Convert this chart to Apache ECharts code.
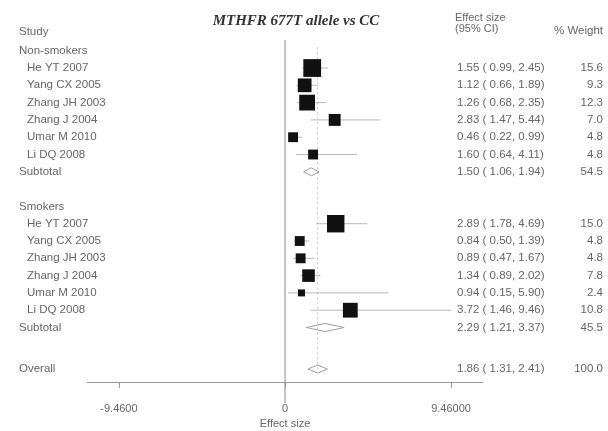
<!DOCTYPE html>
<html>
<head>
<meta charset="utf-8">
<script src="https://cdn.jsdelivr.net/npm/echarts@6/dist/echarts.min.js"></script>
<style>
  html, body { margin: 0; padding: 0; background: #fff; }
  #chart { width: 608px; height: 431px; }
</style>
</head>
<body>
<div id="chart"></div>
<script>
// studies (same list in both groups)
const studyNames = ['He YT 2007', 'Yang CX 2005', 'Zhang JH 2003', 'Zhang J 2004', 'Umar M 2010', 'Li DQ 2008']

// non-smokers
const nsEs = [1.55, 1.12, 1.26, 2.83, 0.46, 1.60]
const nsLo = [0.99, 0.66, 0.68, 1.47, 0.22, 0.64]
const nsHi = [2.45, 1.89, 2.35, 5.44, 0.99, 4.11]
const nsWt = [15.6, 9.3, 12.3, 7.0, 4.8, 4.8]
const nsSub = [1.50, 1.06, 1.94, 54.5]

// smokers
const smEs = [2.89, 0.84, 0.89, 1.34, 0.94, 3.72]
const smLo = [1.78, 0.50, 0.47, 0.89, 0.15, 1.46]
const smHi = [4.69, 1.39, 1.67, 2.02, 5.90, 9.46]
const smWt = [15.0, 4.8, 4.8, 7.8, 2.4, 10.8]
const smSub = [2.29, 1.21, 3.37, 45.5]

// overall
const overall = [1.86, 1.31, 2.41, 100.0]

// x axis ticks
const tickValues = [-9.46, 0, 9.46]
const tickLabels = ['-9.4600', '0', '9.46000']

const groups = [
  { name: 'Non-smokers', es: nsEs, lo: nsLo, hi: nsHi, wt: nsWt, sub: nsSub },
  { name: 'Smokers', es: smEs, lo: smLo, hi: smHi, wt: smWt, sub: smSub }
]

// build the rows
const textRows = []
const studyData = []
const diamondData = []
let r = -1
groups.forEach(g => {
  textRows.push({ r: r, label: g.name, indent: false })
  r++
  studyNames.forEach((n, i) => {
    studyData.push([g.es[i], r, g.lo[i], g.hi[i], g.wt[i]])
    textRows.push({ r: r, label: n, indent: true, es: g.es[i], lo: g.lo[i], hi: g.hi[i], wt: g.wt[i] })
    r++
  })
  diamondData.push([g.sub[0], r, g.sub[1], g.sub[2]])
  textRows.push({ r: r, label: 'Subtotal', indent: false, es: g.sub[0], lo: g.sub[1], hi: g.sub[2], wt: g.sub[3] })
  r += 2
})
const overallRow = r + 0.4
diamondData.push([overall[0], overallRow, overall[1], overall[2]])
textRows.push({ r: overallRow, label: 'Overall', indent: false, es: overall[0], lo: overall[1], hi: overall[2], wt: overall[3] })

const yMin = -1.62
const yMax = 18.15
const textColor = '#666'
const font = '11.5px "Liberation Sans", Arial, sans-serif'

const f2 = v => v.toFixed(2)

const chart = echarts.init(document.getElementById('chart'))

chart.setOption({
  backgroundColor: '#fff',
  animation: false,
  title: {
    text: 'MTHFR 677T allele vs CC',
    left: 291,
    top: 9,
    textAlign: 'center',
    textStyle: {
      fontFamily: '"Liberation Serif", "Times New Roman", serif',
      fontStyle: 'italic',
      fontWeight: 'bold',
      fontSize: 15,
      color: '#333'
    }
  },
  graphic: [
    { type: 'text', left: 19, top: 26, style: { text: 'Study', font: font, fill: textColor } },
    { type: 'text', left: 455, top: 12, style: { text: 'Effect size', font: '11px "Liberation Sans", Arial, sans-serif', fill: textColor } },
    { type: 'text', left: 455, top: 23, style: { text: '(95% CI)', font: '11px "Liberation Sans", Arial, sans-serif', fill: textColor } },
    { type: 'text', right: 5, top: 25, style: { text: '% Weight', font: font, fill: textColor } }
  ],
  grid: { left: 87, right: 125, top: 40, bottom: 49, containLabel: false, outerBoundsMode: 'none' },
  xAxis: {
    type: 'value',
    min: -11.28,
    max: 11.28,
    name: 'Effect size',
    nameLocation: 'middle',
    nameGap: 36,
    nameTextStyle: { fontSize: 11, color: textColor, fontFamily: 'Liberation Sans' },
    axisLine: { show: true, onZero: false, lineStyle: { color: '#999', width: 1 } },
    axisTick: { show: true, length: 6, customValues: tickValues, lineStyle: { color: '#999' } },
    axisLabel: {
      customValues: tickValues,
      margin: 21,
      fontSize: 11,
      color: textColor,
      fontFamily: 'Liberation Sans',
      formatter: v => tickLabels[tickValues.indexOf(v)] ?? ''
    },
    splitLine: { show: false }
  },
  yAxis: { type: 'value', inverse: true, min: yMin, max: yMax, show: false },
  series: [
    {
      // null line and dashed overall line
      type: 'custom',
      clip: false,
      data: [[overall[0], overallRow]],
      renderItem: (params, api) => {
        const t = api.coord([0, yMin])
        const b = api.coord([0, yMax])
        const ot = api.coord([api.value(0), -1.2])
        const ob = api.coord([api.value(0), api.value(1)])
        return {
          type: 'group',
          children: [
            { type: 'line', shape: { x1: t[0], y1: t[1], x2: b[0], y2: b[1] + 21 }, style: { stroke: '#888', lineWidth: 1 } },
            { type: 'line', shape: { x1: ot[0], y1: ot[1], x2: ob[0], y2: ob[1] }, style: { stroke: '#c4c4c4', lineWidth: 1, lineDash: [2, 3] } }
          ]
        }
      }
    },
    {
      // study boxes and confidence intervals
      type: 'custom',
      clip: false,
      data: studyData,
      renderItem: (params, api) => {
        const c = api.coord([api.value(0), api.value(1)])
        const a = api.coord([api.value(2), api.value(1)])
        const b = api.coord([api.value(3), api.value(1)])
        const s = 4.5 * Math.sqrt(api.value(4))
        return {
          type: 'group',
          children: [
            { type: 'line', shape: { x1: a[0], y1: a[1], x2: b[0], y2: b[1] }, style: { stroke: '#b8b8b8', lineWidth: 1 } },
            { type: 'rect', shape: { x: c[0] - s / 2, y: c[1] - s / 2, width: s, height: s }, style: { fill: '#111' } }
          ]
        }
      }
    },
    {
      // pooled diamonds
      type: 'custom',
      clip: false,
      data: diamondData,
      renderItem: (params, api) => {
        const c = api.coord([api.value(0), api.value(1)])
        const a = api.coord([api.value(2), api.value(1)])
        const b = api.coord([api.value(3), api.value(1)])
        return {
          type: 'polygon',
          shape: { points: [a, [c[0], c[1] - 4], b, [c[0], c[1] + 4]] },
          style: { fill: 'none', stroke: '#a0a0a0', lineWidth: 1 }
        }
      }
    },
    {
      // text columns
      type: 'custom',
      clip: false,
      data: textRows.map(t => [0, t.r]),
      renderItem: (params, api) => {
        const row = textRows[params.dataIndex]
        const y = api.coord([0, api.value(1)])[1]
        const children = [
          { type: 'text', x: row.indent ? 27 : 19, y: y, style: { text: row.label, font: font, fill: textColor, verticalAlign: 'middle' } }
        ]
        if (row.es !== undefined) {
          children.push({ type: 'text', x: 457, y: y, style: { text: f2(row.es) + ' ( ' + f2(row.lo) + ', ' + f2(row.hi) + ')', font: font, fill: textColor, verticalAlign: 'middle' } })
          children.push({ type: 'text', x: 603, y: y, style: { text: row.wt.toFixed(1), font: font, fill: textColor, verticalAlign: 'middle', align: 'right' } })
        }
        return { type: 'group', children: children }
      }
    }
  ]
})
</script>
</body>
</html>
